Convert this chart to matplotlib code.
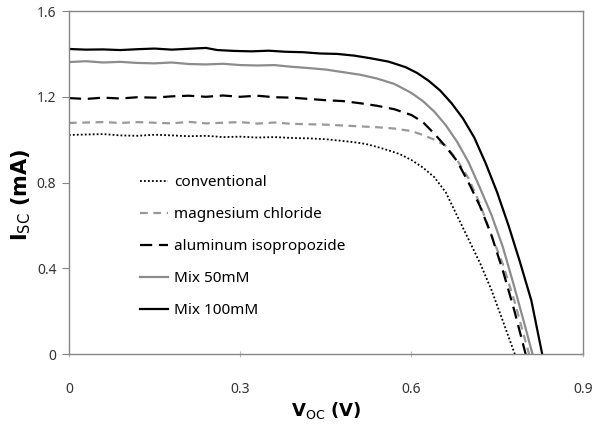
import matplotlib
matplotlib.use("Agg")
import matplotlib.pyplot as plt

plt.rcParams['font.family'] = ['Noto Sans', 'DejaVu Sans']
plt.rcParams['mathtext.fontset'] = 'custom'
plt.rcParams['mathtext.rm'] = 'DejaVu Sans'

# ---- data ----
v_conv = [0.00, 0.03, 0.06, 0.09, 0.12, 0.15, 0.18, 0.21, 0.24, 0.27, 0.30, 0.33, 0.36, 0.39, 0.42, 0.45,
          0.48, 0.50, 0.52, 0.54, 0.56, 0.58, 0.60, 0.62, 0.64, 0.66, 0.68, 0.70, 0.72, 0.74, 0.76, 0.781]
i_conv = [1.022, 1.024, 1.026, 1.020, 1.018, 1.023, 1.020, 1.016, 1.018, 1.012, 1.014, 1.010, 1.012, 1.008, 1.006, 1.002,
          0.994, 0.988, 0.980, 0.966, 0.950, 0.932, 0.905, 0.870, 0.825, 0.755, 0.645, 0.535, 0.425, 0.300, 0.155, 0.0]

v_mg = [0.00, 0.03, 0.06, 0.09, 0.12, 0.15, 0.18, 0.21, 0.24, 0.27, 0.30, 0.33, 0.36, 0.39, 0.42, 0.45,
        0.48, 0.51, 0.54, 0.57, 0.60, 0.62, 0.64, 0.66, 0.68, 0.70, 0.72, 0.74, 0.76, 0.78, 0.806]
i_mg = [1.078, 1.080, 1.082, 1.078, 1.082, 1.079, 1.076, 1.083, 1.076, 1.079, 1.082, 1.075, 1.080, 1.074, 1.072, 1.070,
        1.066, 1.062, 1.058, 1.052, 1.040, 1.022, 1.000, 0.972, 0.905, 0.820, 0.700, 0.555, 0.420, 0.250, 0.0]

v_al = [0.00, 0.03, 0.06, 0.09, 0.12, 0.15, 0.18, 0.21, 0.24, 0.27, 0.30, 0.33, 0.36, 0.39, 0.42, 0.45,
        0.48, 0.51, 0.54, 0.57, 0.60, 0.62, 0.64, 0.66, 0.68, 0.70, 0.72, 0.74, 0.76, 0.78, 0.800]
i_al = [1.194, 1.190, 1.196, 1.192, 1.198, 1.196, 1.202, 1.205, 1.200, 1.206, 1.200, 1.205, 1.198, 1.196, 1.190, 1.184,
        1.180, 1.170, 1.158, 1.142, 1.115, 1.082, 1.028, 0.968, 0.900, 0.800, 0.690, 0.555, 0.390, 0.205, 0.0]

v_m50 = [0.00, 0.03, 0.06, 0.09, 0.12, 0.15, 0.18, 0.21, 0.24, 0.27, 0.30, 0.33, 0.36, 0.39, 0.42, 0.45,
         0.48, 0.51, 0.54, 0.57, 0.60, 0.62, 0.64, 0.66, 0.68, 0.70, 0.72, 0.74, 0.76, 0.78, 0.80, 0.812]
i_m50 = [1.362, 1.366, 1.360, 1.363, 1.358, 1.356, 1.360, 1.353, 1.351, 1.354, 1.348, 1.346, 1.348, 1.340, 1.334, 1.327,
         1.315, 1.303, 1.285, 1.260, 1.218, 1.180, 1.131, 1.068, 0.990, 0.895, 0.775, 0.650, 0.500, 0.315, 0.120, 0.0]

v_m100 = [0.00, 0.03, 0.06, 0.09, 0.12, 0.15, 0.18, 0.21, 0.24, 0.26, 0.29, 0.32, 0.35, 0.38, 0.41, 0.44,
          0.47, 0.50, 0.53, 0.56, 0.59, 0.61, 0.63, 0.65, 0.67, 0.69, 0.71, 0.73, 0.75, 0.77, 0.79, 0.81, 0.829]
i_m100 = [1.423, 1.420, 1.421, 1.418, 1.422, 1.425, 1.420, 1.424, 1.428, 1.418, 1.414, 1.412, 1.415, 1.410, 1.408, 1.402,
          1.400, 1.392, 1.379, 1.364, 1.338, 1.311, 1.275, 1.230, 1.171, 1.100, 1.010, 0.890, 0.755, 0.600, 0.430, 0.250, 0.0]

labels = ["conventional", "magnesium chloride", "aluminum isopropozide", "Mix 50mM", "Mix 100mM"]
x_ticks = [0, 0.3, 0.6, 0.9]
x_tick_labels = ["0", "0.3", "0.6", "0.9"]
y_ticks = [0, 0.4, 0.8, 1.2, 1.6]
y_tick_labels = ["0", "0.4", "0.8", "1.2", "1.6"]

fig = plt.figure(figsize=(5.94, 4.25), dpi=100)
ax = fig.add_axes([0.116, 0.167, 0.865, 0.807])

ax.plot(v_conv, i_conv, color="black", linestyle=(0, (1, 1.2)), linewidth=1.3, label=labels[0])
ax.plot(v_mg, i_mg, color="#999999", linestyle=(0, (3.5, 2.5)), linewidth=1.6, label=labels[1])
ax.plot(v_al, i_al, color="black", linestyle=(0, (5.5, 3)), linewidth=1.6, label=labels[2])
ax.plot(v_m50, i_m50, color="#8c8c8c", linestyle="-", linewidth=1.6, label=labels[3])
ax.plot(v_m100, i_m100, color="black", linestyle="-", linewidth=1.6, label=labels[4])

ax.set_xlim(0, 0.9)
ax.set_ylim(0, 1.6)
ax.set_xticks(x_ticks)
ax.set_xticklabels(x_tick_labels)
ax.set_yticks(y_ticks)
ax.set_yticklabels(y_tick_labels)

for s in ax.spines.values():
    s.set_color("#868686")
    s.set_linewidth(1.0)

ax.tick_params(axis="x", direction="inout", length=5, color="#bbbbbb", pad=18,
               labelsize=10, labelcolor="#333333")
ax.tick_params(axis="y", direction="out", length=5, color="#868686", pad=4,
               labelsize=10, labelcolor="#333333")

ax.set_xlabel(r"V$_{\mathrm{OC}}$ (V)", fontsize=13, fontweight="bold",
              family="DejaVu Sans", labelpad=2)
ax.set_ylabel(r"I$_{\mathrm{SC}}$ (mA)", fontsize=15, fontweight="bold",
              family="DejaVu Sans")
ax.yaxis.set_label_coords(-0.070, 0.465)

leg = ax.legend(loc="upper left", bbox_to_anchor=(0.112, 0.562), frameon=False,
                fontsize=11, handlelength=1.8, handletextpad=0.4, labelspacing=1.12)

fig.savefig("out.png", dpi=100)
